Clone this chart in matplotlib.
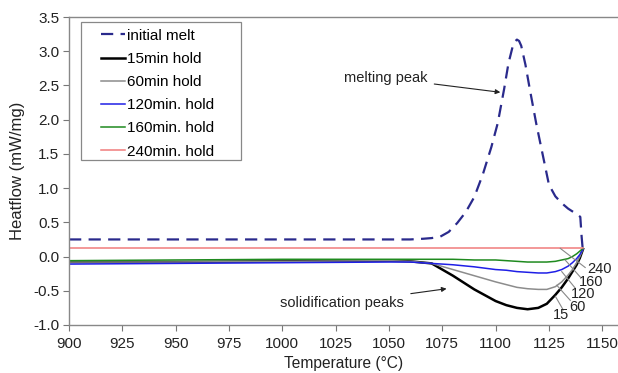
import numpy as np
import matplotlib
matplotlib.use("Agg")
import matplotlib.pyplot as plt
from matplotlib.patches import Rectangle

plt.rcParams["font.family"] = ["Liberation Sans", "DejaVu Sans"]

# initial melt (heating run)
T_melt = [900, 1000, 1060, 1066, 1070, 1074, 1078, 1082, 1086, 1090, 1094, 1098,
          1101, 1104, 1106, 1108, 1109, 1110, 1111, 1112, 1114, 1116, 1119, 1122,
          1125, 1128, 1131, 1134, 1137, 1139.7, 1140.3, 1140.8]
melt = [0.25, 0.25, 0.25, 0.26, 0.27, 0.29, 0.36, 0.49, 0.65, 0.87, 1.20, 1.60,
        1.95, 2.45, 2.82, 3.07, 3.14, 3.17, 3.15, 3.08, 2.80, 2.45, 1.95, 1.50,
        1.05, 0.88, 0.78, 0.70, 0.64, 0.58, 0.30, 0.12]

# cooling runs after holds
T_cool = [900, 950, 1000, 1050, 1060, 1070, 1080, 1090, 1100, 1105, 1110, 1115,
          1120, 1124, 1128, 1131, 1134, 1136, 1138, 1139.5, 1141]
hold_15 = [-0.08, -0.08, -0.07, -0.06, -0.07, -0.10, -0.28, -0.48, -0.65, -0.71, -0.75,
           -0.77, -0.75, -0.69, -0.56, -0.45, -0.32, -0.22, -0.12, -0.02, 0.11]
hold_60 = [-0.08, -0.08, -0.07, -0.06, -0.07, -0.10, -0.19, -0.28, -0.37, -0.41, -0.45,
           -0.47, -0.48, -0.48, -0.44, -0.37, -0.27, -0.19, -0.09, 0.00, 0.11]
hold_120 = [-0.11, -0.10, -0.09, -0.08, -0.08, -0.10, -0.12, -0.15, -0.19, -0.20, -0.22,
            -0.23, -0.24, -0.24, -0.22, -0.19, -0.14, -0.09, -0.03, 0.03, 0.11]
hold_160 = [-0.06, -0.05, -0.04, -0.04, -0.04, -0.04, -0.04, -0.05, -0.05, -0.06, -0.07,
            -0.08, -0.08, -0.08, -0.07, -0.05, -0.03, 0.00, 0.04, 0.08, 0.12]
hold_240 = [0.12] * len(T_cool)

# curve tags: (label, line start x, y, line end x, y, text x, y)
tags = [
    ("240", 1130.3, 0.12, 1142.0, -0.16, 1148.5, -0.18),
    ("160", 1132.6, -0.05, 1139.7, -0.30, 1145.0, -0.37),
    ("120", 1131.0, -0.22, 1137.3, -0.46, 1141.0, -0.55),
    ("60", 1128.7, -0.42, 1135.0, -0.64, 1138.3, -0.74),
    ("15", 1128.0, -0.58, 1131.7, -0.78, 1130.5, -0.86),
]

fig = plt.figure(figsize=(6.18, 3.73), dpi=100)
ax = fig.add_axes([0.1117, 0.1287, 0.887, 0.8257])

ax.plot(T_melt, melt, color="#2a2a8c", lw=1.6, dashes=(5.5, 3.3), label="initial melt")
ax.plot(T_cool, hold_15, color="black", lw=1.8, label="15min hold")
ax.plot(T_cool, hold_60, color="#8c8c8c", lw=1.1, label="60min hold")
ax.plot(T_cool, hold_120, color="#1f1fe6", lw=1.1, label="120min. hold")
ax.plot(T_cool, hold_160, color="#1f8a1f", lw=1.1, label="160min. hold")
ax.plot(T_cool, hold_240, color="#f07c7c", lw=1.1, label="240min. hold")

for txt, x0, y0, x1, y1, tx, ty in tags:
    ax.plot([x0, x1], [y0, y1], color="#888888", lw=0.8)
    ax.text(tx, ty, txt, fontsize=10.5, color="#222222", ha="center", va="center")

ax.annotate("melting peak", xy=(1102.2, 2.40), xytext=(1068, 2.61),
            fontsize=10.5, color="#222222", ha="right", va="center",
            arrowprops=dict(arrowstyle="-|>", color="#222222", lw=0.8,
                            mutation_scale=7, shrinkA=3, shrinkB=0))
ax.annotate("solidification peaks", xy=(1077, -0.47), xytext=(1057, -0.68),
            fontsize=10.5, color="#222222", ha="right", va="center",
            arrowprops=dict(arrowstyle="-|>", color="#222222", lw=0.8,
                            mutation_scale=7, shrinkA=3, shrinkB=0))

ax.set_xlim(900, 1157)
ax.set_ylim(-1.0, 3.5)
ax.set_xticks(np.arange(900, 1151, 25))
ax.set_yticks(np.arange(-1.0, 3.51, 0.5))
ax.set_yticklabels([f"{v:.1f}" for v in np.arange(-1.0, 3.51, 0.5)])
ax.tick_params(direction="out", length=4, width=0.8, color="#777777",
               labelsize=11, labelcolor="#222222", pad=3)
ax.tick_params(axis="x", pad=5)
ax.spines["right"].set_visible(False)
for s in ("left", "bottom", "top"):
    ax.spines[s].set_color("#888888")
    ax.spines[s].set_linewidth(1.0)

ax.set_xlabel("Temperature (°C)", fontsize=11.2, color="#222222", labelpad=3)
ax.set_ylabel("Heatflow (mW/mg)", fontsize=12, color="#222222", labelpad=6)

# legend box drawn separately so the wide side padding matches
ax.add_patch(Rectangle((0.022, 0.536), 0.292, 0.448, transform=ax.transAxes,
                       facecolor="white", edgecolor="#888888", lw=0.9, zorder=4))
leg = ax.legend(loc="upper left", bbox_to_anchor=(0.058, 0.962), fontsize=11,
                handlelength=1.6, handletextpad=0.1, labelspacing=0.6,
                borderpad=0, frameon=False, borderaxespad=0)
leg.set_zorder(5)

fig.savefig("out.png", dpi=100)
